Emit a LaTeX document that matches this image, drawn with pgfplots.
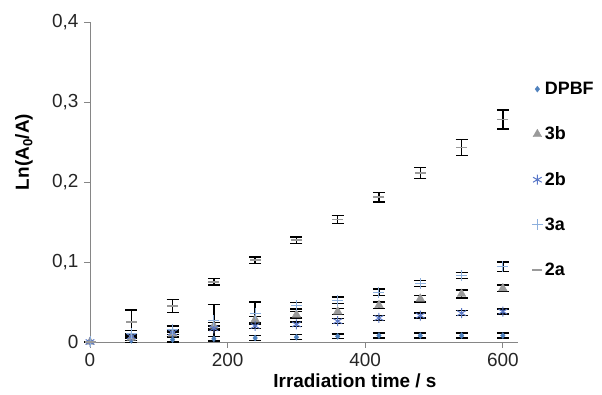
\documentclass[border=0pt]{standalone}
\usepackage{pgfplots}
\pgfplotsset{compat=1.18}
\usepackage{fontspec}
\setmainfont{Liberation Sans}
\definecolor{cblue}{HTML}{4F81BD}
\definecolor{cblue2}{HTML}{5A78C8}
\definecolor{cblue3}{HTML}{8DB0DD}
\definecolor{cgrey}{HTML}{9A9A9A}
\definecolor{axgrey}{HTML}{868686}
\begin{document}
\begin{tikzpicture}
\begin{axis}[
  scale only axis, width=428bp, height=320bp,
  xmin=0, xmax=622, ymin=0, ymax=0.4,
  axis x line=bottom, axis y line=left,
  axis line style={axgrey, line width=0.8pt, -},
  xtick={0,200,400,600}, ytick={0,0.1,0.2,0.3,0.4},
  tick style={axgrey, line width=0.8pt},
  major tick length=6bp,
  tick align=outside,
  /pgf/number format/assume math mode=true,
  /pgf/number format/use comma,
  /pgf/number format/fixed,
  /pgf/number format/precision=1,
  tick label style={font=\fontsize{19}{22}\selectfont, text=black!85},
  yticklabel style={xshift=-2bp},
  xticklabel style={yshift=-2bp},
  clip=false,
  legend style={draw=none, fill=none, at={(rel axis cs:1.025,0.825)}, anchor=north west,
    font=\bfseries\fontsize{18}{22}\selectfont, row sep=27bp,
    legend cell align=left},
]
\pgfplotsset{every axis plot/.append style={only marks,
  error bars/y dir=both, error bars/y explicit,
  error bars/error bar style={black, line width=1.4pt},
  error bars/error mark options={rotate=90, mark size=6bp, black, line width=1.4pt}}}

\addlegendimage{only marks, mark=diamond*, mark size=3bp, color=cblue}
\addlegendentry{DPBF}
\addlegendimage{only marks, mark=triangle*, mark size=5bp, color=cgrey}
\addlegendentry{3b}
\addlegendimage{only marks, mark=asterisk, mark size=5bp, color=cblue2, line width=1pt}
\addlegendentry{2b}
\addlegendimage{only marks, mark=+, mark size=5.5bp, color=cblue3, line width=1pt}
\addlegendentry{3a}
\addlegendimage{only marks, mark=-, mark size=5bp, color=cgrey, mark options={draw=cgrey, line width=1.6pt}}
\addlegendentry{2a}

\addplot[forget plot, mark=diamond*, mark size=3bp, color=cblue] table[x=x, y=y, y error=e] {
x y e
0 0 0
60 0.002 0.003
120 0.003 0.003
180 0.004 0.003
240 0.005 0.003
300 0.006 0.003
360 0.007 0.003
420 0.008 0.003
480 0.008 0.003
540 0.008 0.003
600 0.008 0.003
};

\addplot[forget plot, mark=triangle*, mark size=5bp, color=cgrey] table[x=x, y=y, y error=e] {
x y e
0 0 0
60 0.005 0.003
120 0.010 0.003
180 0.020 0.004
240 0.028 0.004
300 0.034 0.004
360 0.038 0.004
420 0.046 0.004
480 0.054 0.004
540 0.060 0.005
600 0.067 0.004
};

\addplot[forget plot, mark=asterisk, mark size=5bp, color=cblue2, line width=1pt] table[x=x, y=y, y error=e] {
x y e
0 0 0
60 0.007 0.003
120 0.012 0.003
180 0.017 0.003
240 0.020 0.003
300 0.022 0.003
360 0.026 0.003
420 0.030 0.003
480 0.033 0.003
540 0.036 0.003
600 0.038 0.003
};

\addplot[forget plot, mark=+, mark size=5.5bp, color=cblue3, line width=1pt] table[x=x, y=y, y error=e] {
x y e
0 0 0
60 0.010 0.004
120 0.016 0.004
180 0.027 0.020
240 0.036 0.014
300 0.045 0.004
360 0.052 0.004
420 0.062 0.004
480 0.073 0.004
540 0.083 0.004
600 0.094 0.006
};

\addplot[forget plot, mark=-, mark size=5.5bp, color=cgrey, line width=1.8pt] table[x=x, y=y, y error=e] {
x y e
0 0 0
60 0.025 0.015
120 0.045 0.008
180 0.075 0.004
240 0.102 0.004
300 0.127 0.004
360 0.153 0.005
420 0.181 0.006
480 0.211 0.007
540 0.243 0.010
600 0.278 0.012
};

\node[font=\bfseries\fontsize{19}{22}\selectfont, rotate=90] at (rel axis cs:-0.154,0.594) {Ln(A\textsubscript{0}/A)};
\node[font=\bfseries\fontsize{19}{22}\selectfont] at (rel axis cs:0.619,-0.122) {Irradiation time / s};
\coordinate (bl) at (rel axis cs:-0.2103,-0.1656);
\coordinate (tr) at (rel axis cs:1.1963,1.06875);
\end{axis}
\pgfresetboundingbox
\path[use as bounding box] (bl) rectangle (tr);
\end{tikzpicture}
\end{document}
